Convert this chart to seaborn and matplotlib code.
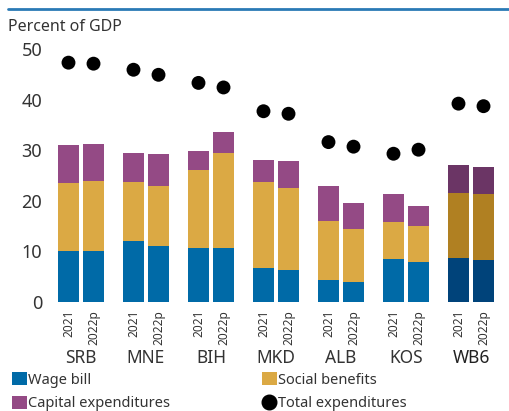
import numpy as np
import pandas as pd
import seaborn as sns
import matplotlib
matplotlib.use("Agg")
import matplotlib.pyplot as plt
import matplotlib.transforms as mtransforms
from matplotlib.patches import Patch
from matplotlib.lines import Line2D

# ---------------- data ----------------
countries = ["SRB", "MNE", "BIH", "MKD", "ALB", "KOS", "WB6"]
years = ["2021", "2022p"]
wage_2021 = [10.0, 12.0, 10.7, 6.8, 4.4, 8.5, 8.7]
wage_2022 = [10.0, 11.1, 10.7, 6.3, 4.0, 7.9, 8.3]
social_2021 = [13.5, 11.7, 15.4, 16.9, 11.6, 7.3, 12.8]
social_2022 = [13.9, 11.8, 18.7, 16.2, 10.4, 7.1, 13.0]
capital_2021 = [7.5, 5.7, 3.7, 4.4, 6.9, 5.5, 5.6]
capital_2022 = [7.3, 6.3, 4.2, 5.4, 5.2, 4.0, 5.4]
total_2021 = [47.3, 45.9, 43.3, 37.7, 31.6, 29.3, 39.2]
total_2022 = [47.1, 44.9, 42.4, 37.2, 30.7, 30.1, 38.7]
series_labels = ["Wage bill", "Social benefits", "Capital expenditures", "Total expenditures"]
y_label = "Percent of GDP"

# ---------------- style ----------------
sns.set_theme(style="white")
FONT = ["Noto Sans", "DejaVu Sans"]
plt.rcParams["font.family"] = FONT
TXT = "#333333"

C_WAGE, C_SOC, C_CAP = "#006AA7", "#DBA944", "#944A85"
D_WAGE, D_SOC, D_CAP = "#00437A", "#B08022", "#6B3565"

rows = []
for yi, yr in enumerate(years):
    w = wage_2021 if yi == 0 else wage_2022
    s = social_2021 if yi == 0 else social_2022
    c = capital_2021 if yi == 0 else capital_2022
    t = total_2021 if yi == 0 else total_2022
    for ci, cn in enumerate(countries):
        rows.append(dict(country=cn, year=yr, wage=w[ci], social=s[ci],
                         capital=c[ci], total=t[ci]))
df = pd.DataFrame(rows)
df["top_wage"] = df["wage"]
df["top_social"] = df["wage"] + df["social"]
df["top_capital"] = df["top_social"] + df["capital"]

fig = plt.figure(figsize=(5.09, 4.11), dpi=100)
W, H = 509, 411
ax_left, ax_right, ax_bot, ax_top = 45, 505, 302, 49
ax = fig.add_axes([ax_left / W, (H - ax_bot) / H, (ax_right - ax_left) / W, (ax_bot - ax_top) / H])

WIDTH, GAP = 0.77, 0.16
layers = [("top_capital", C_CAP, D_CAP), ("top_social", C_SOC, D_SOC), ("top_wage", C_WAGE, D_WAGE)]
for col, c_norm, c_dark in layers:
    n_before = len(ax.patches)
    sns.barplot(data=df, x="country", y=col, hue="year", order=countries, hue_order=years,
                dodge=True, width=WIDTH, gap=GAP, errorbar=None, legend=False,
                palette=[c_norm, c_norm], ax=ax, linewidth=0, saturation=1)
    for p in ax.patches[n_before:]:
        idx = int(round(p.get_x() + p.get_width() / 2))
        p.set_facecolor(c_dark if countries[idx] == "WB6" else c_norm)
        p.set_edgecolor("none")

# total expenditure dots
offs = {years[0]: -WIDTH / 4, years[1]: WIDTH / 4}
df["xpos"] = [countries.index(c) + offs[y] for c, y in zip(df["country"], df["year"])]
sns.scatterplot(data=df, x="xpos", y="total", color="black", s=100, edgecolor="none",
                ax=ax, legend=False, zorder=5)

ax.set_xlim((ax_left - 81) / 65, (ax_right - 81) / 65)
ax.set_ylim(0, 50)
ax.set_yticks([0, 10, 20, 30, 40, 50])
ax.tick_params(axis="y", labelsize=13, colors=TXT, length=0, pad=2)
ax.set_xticks([])
ax.set_xlabel("")
ax.set_ylabel("")
for sp in ax.spines.values():
    sp.set_visible(False)
ax.grid(False)

trans = mtransforms.blended_transform_factory(ax.transData, ax.transAxes)
hpx = ax_bot - ax_top
for _, r in df.iterrows():
    ax.text(r["xpos"], -(310 - ax_bot) / hpx, r["year"], rotation=90, ha="center", va="top",
            fontsize=8.5, color=TXT, transform=trans)
for i, cn in enumerate(countries):
    ax.text(i, -(358 - ax_bot) / hpx, cn, ha="center", va="center", fontsize=12.5,
            color="#222222" if cn == "WB6" else TXT,
            fontweight="bold" if cn == "WB6" else "normal", transform=trans)

# title and top line
fig.text(8 / W, 1 - 27 / H, y_label, fontsize=11.5, color=TXT, ha="left", va="center")
fig.add_artist(Line2D([8 / W, 1], [1 - 9 / H, 1 - 9 / H], color="#2A7AB5", lw=2,
                      transform=fig.transFigure))

handles = [Patch(facecolor=C_WAGE, edgecolor="none"),
           Patch(facecolor=C_CAP, edgecolor="none"),
           Patch(facecolor=C_SOC, edgecolor="none"),
           Line2D([], [], marker="o", color="black", linestyle="none", markersize=10.5)]
labels = [series_labels[0], series_labels[2], series_labels[1], series_labels[3]]
fig.legend(handles, labels, loc="upper left", bbox_to_anchor=(2 / W, 1 - 362 / H), ncol=2,
           frameon=False, fontsize=10.5, handlelength=1.0, handleheight=1.0,
           handletextpad=0.1, columnspacing=6.3, labelspacing=0.55, labelcolor=TXT,
           borderpad=0.2)

fig.savefig("out.png", dpi=100)
